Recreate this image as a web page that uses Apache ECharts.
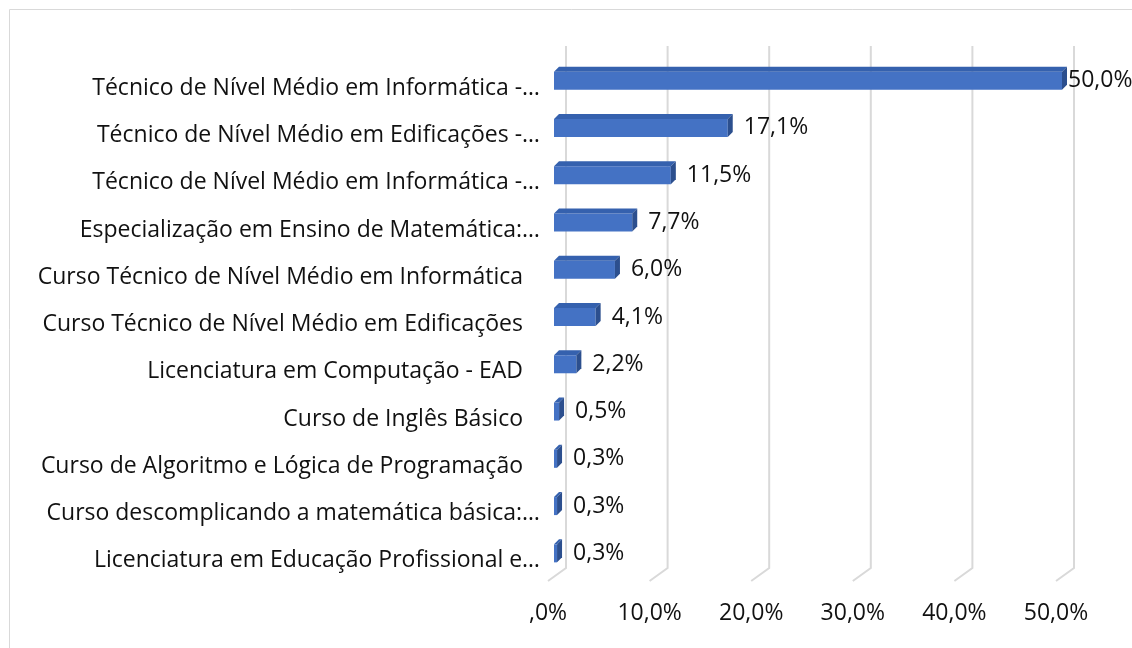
<!DOCTYPE html>
<html>
<head>
<meta charset="utf-8">
<script src="https://cdn.jsdelivr.net/npm/echarts@6/dist/echarts.min.js"></script>
<style>
  html, body { margin: 0; padding: 0; background: #fff; }
  #chart { width: 1132px; height: 648px; }
</style>
</head>
<body>
<div id="chart"></div>
<script>
// categorias (de cima para baixo)
var categories = [
  'Técnico de Nível Médio em Informática -…',
  'Técnico de Nível Médio em Edificações -…',
  'Técnico de Nível Médio em Informática -…',
  'Especialização em Ensino de Matemática:…',
  'Curso Técnico de Nível Médio em Informática',
  'Curso Técnico de Nível Médio em Edificações',
  'Licenciatura em Computação - EAD',
  'Curso de Inglês Básico',
  'Curso de Algoritmo e Lógica de Programação',
  'Curso descomplicando a matemática básica:…',
  'Licenciatura em Educação Profissional e…'
]
// percentuais
var values = [50.0, 17.1, 11.5, 7.7, 6.0, 4.1, 2.2, 0.5, 0.3, 0.3, 0.3]
// ticks do eixo
var tickValues = [0, 10, 20, 30, 40, 50]

var FONT = 'Open Sans'
var TEXT = '#111'
var FS = 23

function pct(v) {
  if (v === 0) return ',0%'
  return v.toFixed(1).replace('.', ',') + '%'
}

var chart = echarts.init(document.getElementById('chart'))

// rótulos completos ficam um pouco afastados do eixo (como no Excel)
var catData = categories.map(function (c) {
  if (c.charAt(c.length - 1) === '…') return c
  return {
    value: c,
    textStyle: { padding: [0, 17, 0, 0], verticalAlign: 'top', lineHeight: 15 }
  }
})

var option = {
  animation: false,
  textStyle: { fontFamily: FONT },
  graphic: [{
    type: 'rect',
    silent: true,
    shape: { x: 9.5, y: 9.5, width: 1140, height: 660 },
    style: { fill: 'none', stroke: '#d9d9d9', lineWidth: 1 }
  }],
  grid: { left: 554, right: 70, top: 57, bottom: 71 },
  xAxis: {
    type: 'value',
    min: 0,
    max: 50,
    interval: 10,
    axisLine: { show: false },
    axisTick: { show: false },
    splitLine: { show: false },
    axisLabel: {
      formatter: pct,
      fontSize: FS,
      color: TEXT,
      fontFamily: FONT,
      margin: 25,
      padding: [0, 12, 0, 0]
    }
  },
  yAxis: {
    type: 'category',
    data: catData,
    inverse: true,
    axisLine: { show: false },
    axisTick: { show: false },
    axisLabel: {
      fontSize: FS,
      color: TEXT,
      fontFamily: FONT,
      margin: 14,
      verticalAlign: 'top',
      lineHeight: 15
    }
  },
  series: [
    {
      // linhas de grade com perspectiva 3D
      type: 'custom',
      z: 1,
      silent: true,
      encode: { x: 0, y: 1 },
      data: tickValues.map(function (v) { return [v, 0] }),
      renderItem: function (params, api) {
        var cs = params.coordSys
        var x = api.coord([api.value(0), 0])[0]
        var top = cs.y - 11
        var back = cs.y + cs.height - 9
        var front = cs.y + cs.height + 4
        return {
          type: 'polyline',
          shape: { points: [[x + 12, top], [x + 12, back], [x - 6, front]] },
          style: { stroke: '#d9d9d9', lineWidth: 2, fill: null }
        }
      }
    },
    {
      // face frontal das barras
      type: 'bar',
      z: 3,
      data: values.map(function (v, i) {
        var item = { value: v }
        if (i === 0) item.label = { distance: 6 }
        return item
      }),
      barWidth: 18,
      itemStyle: { color: '#4472C4' },
      label: {
        show: true,
        position: 'right',
        distance: 16,
        formatter: function (p) { return pct(p.value) },
        fontSize: FS,
        color: TEXT,
        fontFamily: FONT
      }
    },
    {
      // faces superior e lateral (efeito 3D)
      type: 'custom',
      z: 4,
      silent: true,
      encode: { x: 0, y: 1 },
      data: values.map(function (v, i) { return [v, i] }),
      renderItem: function (params, api) {
        var s = api.coord([0, api.value(1)])
        var e = api.coord([api.value(0), api.value(1)])
        var h = 18
        var d = 5
        var x0 = s[0], x1 = e[0]
        var yt = s[1] - h / 2, yb = s[1] + h / 2
        return {
          type: 'group',
          children: [
            {
              type: 'polygon',
              shape: { points: [[x0, yt], [x1, yt], [x1 + d, yt - d], [x0 + d, yt - d]] },
              style: { fill: '#3561AE' }
            },
            {
              type: 'polygon',
              shape: { points: [[x1, yt], [x1 + d, yt - d], [x1 + d, yb - d], [x1, yb]] },
              style: { fill: '#2C4F8E' }
            }
          ]
        }
      }
    }
  ]
}

chart.setOption(option)
</script>
</body>
</html>
